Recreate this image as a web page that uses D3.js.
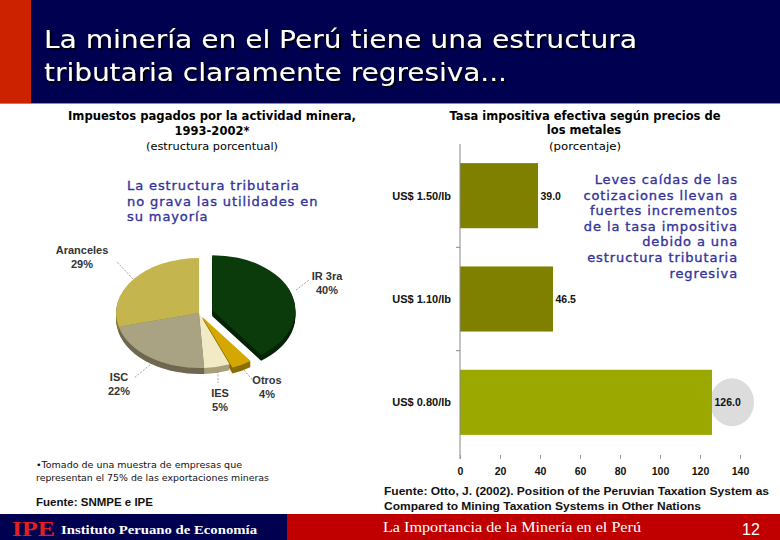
<!DOCTYPE html>
<html>
<head>
<meta charset="utf-8">
<script src="https://cdn.jsdelivr.net/npm/d3@7"></script>
<style>
html,body{margin:0;padding:0;background:#fff;}
svg{display:block;}
</style>
</head>
<body>
<svg id="chart" width="780" height="540"></svg>
<script>
// ---------- DATA ----------
const titleLines = ["La minería en el Perú tiene una estructura", "tributaria claramente regresiva..."];

const pieTitle = ["Impuestos pagados por la actividad minera,", "1993-2002*"];
const pieSubtitle = "(estructura porcentual)";
const pieNote = ["La estructura tributaria", "no grava las utilidades en", "su mayoría"];
const pieCategories = ["IR 3ra", "Otros", "IES", "ISC", "Aranceles"];
const pieValues = [40, 4, 5, 22, 29];
const pieFootnote = ["•Tomado de una muestra de empresas que", "representan el 75% de las exportaciones mineras"];
const pieSource = "Fuente: SNMPE e IPE";

const barTitle = ["Tasa impositiva efectiva según precios de", "los metales"];
const barSubtitle = "(porcentaje)";
const barCategories = ["US$ 1.50/lb", "US$ 1.10/lb", "US$ 0.80/lb"];
const barValues = [39.0, 46.5, 126.0];
const barTicks = [0, 20, 40, 60, 80, 100, 120, 140];
const barNote = ["Leves caídas de las", "cotizaciones llevan a", "fuertes incrementos", "de la tasa impositiva", "debido a una", "estructura tributaria", "regresiva"];
const barSource = ["Fuente: Otto, J. (2002). Position of the Peruvian Taxation System as", "Compared to Mining Taxation Systems in Other Nations"];

const footerLeft = ["IPE", "Instituto Peruano de Economía"];
const footerRight = "La Importancia de la Minería en el Perú";
const pageNumber = "12";

// ---------- STYLE / LAYOUT ----------
const navy = "#000050";
const sans = "'DejaVu Sans', Verdana, sans-serif";
const arial = "'Liberation Sans', Arial, sans-serif";
const serif = "'Liberation Serif', 'Times New Roman', serif";
const noteBlue = "#333399";
const pieTop = {"IR 3ra": "#0b3a0b", "Otros": "#d4a800", "IES": "#f2eac4", "ISC": "#a9a283", "Aranceles": "#c5b54e"};
const pieSide = {"IR 3ra": "#062406", "Otros": "#8a6e00", "IES": "#a89f7a", "ISC": "#6e6850", "Aranceles": "#807530"};
const pieExplode = {"IR 3ra": 14, "Otros": 6, "IES": 0, "ISC": 0, "Aranceles": 0};
const pieLabelPos = {
  "IR 3ra": {x: 327, y: 280, lx1: 296, ly1: 290, lx2: 309, ly2: 280},
  "Otros": {x: 267, y: 384, lx1: 244, ly1: 370, lx2: 255, ly2: 383},
  "IES": {x: 220, y: 397, lx1: 218, ly1: 371, lx2: 218, ly2: 383},
  "ISC": {x: 119, y: 381, lx1: 150, ly1: 365, lx2: 134, ly2: 378},
  "Aranceles": {x: 82, y: 254, lx1: 133, ly1: 279, lx2: 117, ly2: 262}
};

const svg = d3.select("#chart");
const defs = svg.append("defs");
const shadow = defs.append("filter").attr("id", "shadow").attr("x", "-5%").attr("y", "-30%").attr("width", "110%").attr("height", "160%");
shadow.append("feDropShadow").attr("dx", 2).attr("dy", 2).attr("stdDeviation", 0.6)
  .attr("flood-color", "#000").attr("flood-opacity", 0.9);

// ---------- HEADER ----------
svg.append("rect").attr("x", 0).attr("y", 0).attr("width", 780).attr("height", 103).attr("fill", navy);
svg.append("rect").attr("x", 0).attr("y", 0).attr("width", 31).attr("height", 103).attr("fill", "#cc2200");
svg.append("line").attr("x1", 0).attr("x2", 780).attr("y1", 103.5).attr("y2", 103.5).attr("stroke", "#8a8aa0").attr("stroke-width", 1);
const titleLen = [593, 463];
titleLines.forEach((t, i) => {
  svg.append("text").attr("x", 44).attr("y", 48 + i * 33)
    .attr("fill", "#fff").attr("filter", "url(#shadow)")
    .attr("font-family", sans).attr("font-size", 24)
    .attr("textLength", titleLen[i]).attr("lengthAdjust", "spacingAndGlyphs").text(t);
});

// ---------- LEFT PANEL: PIE ----------
svg.append("text").attr("x", 212).attr("y", 120).attr("text-anchor", "middle")
  .attr("font-family", sans).attr("font-weight", "bold").attr("font-size", 11.5)
  .attr("textLength", 288).attr("lengthAdjust", "spacingAndGlyphs").text(pieTitle[0]);
svg.append("text").attr("x", 212).attr("y", 135).attr("text-anchor", "middle")
  .attr("font-family", sans).attr("font-weight", "bold").attr("font-size", 11.5).text(pieTitle[1]);
svg.append("text").attr("x", 212).attr("y", 150).attr("text-anchor", "middle")
  .attr("font-family", sans).attr("font-size", 11)
  .attr("textLength", 132).attr("lengthAdjust", "spacingAndGlyphs").text(pieSubtitle);

pieNote.forEach((t, i) => {
  svg.append("text").attr("x", 127).attr("y", 190 + i * 15.7)
    .attr("fill", noteBlue).attr("stroke", noteBlue).attr("stroke-width", 0.35)
    .attr("font-family", sans).attr("font-size", 13)
    .attr("letter-spacing", 0.9).text(t);
});

const pcx = 199, pcy = 313, prx = 83, pry = 55, thick = 6;
const pieGen = d3.pie().sort(null).value(d => d.value);
const slices = pieGen(pieCategories.map((c, i) => ({cat: c, value: pieValues[i]})));
const arc = d3.arc().innerRadius(0).outerRadius(prx);

function offset(d) {
  const mid = (d.startAngle + d.endAngle) / 2;
  const e = pieExplode[d.data.cat];
  return [Math.sin(mid) * e, -Math.cos(mid) * e];
}

// side layers
for (let k = thick; k >= 1; k--) {
  const g = svg.append("g").attr("transform", `translate(${pcx},${pcy + k}) scale(1,${pry / prx})`);
  g.selectAll("path").data(slices).join("path")
    .attr("d", arc)
    .attr("transform", d => `translate(${offset(d)[0]},${offset(d)[1]})`)
    .attr("fill", d => pieSide[d.data.cat]);
}
const gTop = svg.append("g").attr("transform", `translate(${pcx},${pcy}) scale(1,${pry / prx})`);
gTop.selectAll("path").data(slices).join("path")
  .attr("d", arc)
  .attr("transform", d => `translate(${offset(d)[0]},${offset(d)[1]})`)
  .attr("fill", d => pieTop[d.data.cat]);

// labels and leader lines
slices.forEach(d => {
  const p = pieLabelPos[d.data.cat];
  svg.append("line").attr("x1", p.lx1).attr("y1", p.ly1).attr("x2", p.lx2).attr("y2", p.ly2)
    .attr("stroke", "#888").attr("stroke-width", 0.8).attr("stroke-dasharray", "2,1.5");
  svg.append("text").attr("x", p.x).attr("y", p.y).attr("text-anchor", "middle")
    .attr("font-family", arial).attr("font-weight", "bold").attr("font-size", 11).attr("fill", "#333")
    .text(d.data.cat);
  svg.append("text").attr("x", p.x).attr("y", p.y + 14).attr("text-anchor", "middle")
    .attr("font-family", arial).attr("font-weight", "bold").attr("font-size", 11).attr("fill", "#333")
    .text(d.data.value + "%");
});

pieFootnote.forEach((t, i) => {
  svg.append("text").attr("x", 36).attr("y", 468 + i * 13)
    .attr("font-family", sans).attr("font-size", 9).attr("fill", "#111")
    .attr("textLength", i === 0 ? 206 : 233).attr("lengthAdjust", "spacingAndGlyphs").text(t);
});
svg.append("text").attr("x", 36).attr("y", 506)
  .attr("font-family", arial).attr("font-weight", "bold").attr("font-size", 11.5).attr("fill", "#111")
  .text(pieSource);

// ---------- RIGHT PANEL: BARS ----------
svg.append("text").attr("x", 585).attr("y", 120).attr("text-anchor", "middle")
  .attr("font-family", sans).attr("font-weight", "bold").attr("font-size", 11.5)
  .attr("textLength", 271).attr("lengthAdjust", "spacingAndGlyphs").text(barTitle[0]);
svg.append("text").attr("x", 584).attr("y", 134).attr("text-anchor", "middle")
  .attr("font-family", sans).attr("font-weight", "bold").attr("font-size", 11.5).text(barTitle[1]);
svg.append("text").attr("x", 585).attr("y", 150).attr("text-anchor", "middle")
  .attr("font-family", sans).attr("font-size", 11)
  .attr("textLength", 72).attr("lengthAdjust", "spacingAndGlyphs").text(barSubtitle);

const x = d3.scaleLinear().domain([0, 140]).range([460, 740]);
const y = d3.scaleBand().domain(barCategories).range([144, 454]).paddingInner(0.37).paddingOuter(0.185);
const barColors = ["#808000", "#808000", "#9aa800"];

// grey bubble behind last value
svg.append("ellipse")
  .attr("cx", x(barValues[2]) + 20).attr("cy", y(barCategories[2]) + y.bandwidth() / 2)
  .attr("rx", 22).attr("ry", 24).attr("fill", "#dcdcdc");

svg.selectAll("rect.bar").data(barCategories).join("rect").attr("class", "bar")
  .attr("x", x(0)).attr("y", d => y(d))
  .attr("width", (d, i) => x(barValues[i]) - x(0)).attr("height", y.bandwidth())
  .attr("fill", (d, i) => barColors[i]);

// vertical axis
svg.append("line").attr("x1", x(0)).attr("x2", x(0)).attr("y1", 144).attr("y2", 459)
  .attr("stroke", "#888").attr("stroke-width", 1);
barCategories.slice(0, -1).forEach(c => {
  const yy = y(c) + y.bandwidth() + y.step() * y.paddingInner() / 2;
  svg.append("line").attr("x1", x(0) - 4).attr("x2", x(0)).attr("y1", yy).attr("y2", yy)
    .attr("stroke", "#888");
});
// category labels
svg.selectAll("text.cat").data(barCategories).join("text").attr("class", "cat")
  .attr("x", 451).attr("y", d => y(d) + y.bandwidth() / 2 + 4)
  .attr("text-anchor", "end").attr("font-family", arial).attr("font-weight", "bold").attr("font-size", 11)
  .attr("fill", "#111").text(d => d);
// value labels
svg.selectAll("text.val").data(barValues).join("text").attr("class", "val")
  .attr("x", d => x(d) + 2.5).attr("y", (d, i) => y(barCategories[i]) + y.bandwidth() / 2 + 4)
  .attr("font-family", arial).attr("font-weight", "bold").attr("font-size", 10.5)
  .attr("fill", "#111").text(d => d.toFixed(1));

// bottom axis
const xAxis = svg.append("g").attr("transform", "translate(0,455)")
  .call(d3.axisBottom(x).tickValues(barTicks).tickSize(4).tickPadding(9).tickFormat(d3.format("d")));
xAxis.select(".domain").remove();
xAxis.selectAll(".tick line").attr("stroke", "#999");
xAxis.selectAll(".tick text").attr("font-family", arial).attr("font-weight", "bold").attr("font-size", 10.5).attr("fill", "#111");

barNote.forEach((t, i) => {
  svg.append("text").attr("x", 738).attr("y", 184 + i * 15.6).attr("text-anchor", "end")
    .attr("fill", noteBlue).attr("stroke", noteBlue).attr("stroke-width", 0.35)
    .attr("font-family", sans).attr("font-size", 13)
    .attr("letter-spacing", 0.9).text(t);
});

barSource.forEach((t, i) => {
  svg.append("text").attr("x", 384).attr("y", 495 + i * 15)
    .attr("font-family", arial).attr("font-weight", "bold").attr("font-size", 10.5).attr("fill", "#111")
    .attr("textLength", i === 0 ? 385 : 317).attr("lengthAdjust", "spacingAndGlyphs").text(t);
});

// ---------- FOOTER ----------
svg.append("rect").attr("x", 0).attr("y", 514).attr("width", 287).attr("height", 26).attr("fill", navy);
svg.append("rect").attr("x", 287).attr("y", 514).attr("width", 493).attr("height", 26).attr("fill", "#c00000");
svg.append("text").attr("x", 12).attr("y", 536)
  .attr("font-family", serif).attr("font-weight", "bold").attr("font-size", 22).attr("fill", "#e02020")
  .attr("textLength", 43).attr("lengthAdjust", "spacingAndGlyphs").text(footerLeft[0]);
svg.append("text").attr("x", 61).attr("y", 534)
  .attr("font-family", serif).attr("font-weight", "bold").attr("font-size", 13).attr("fill", "#fff")
  .attr("textLength", 196).attr("lengthAdjust", "spacingAndGlyphs").text(footerLeft[1]);
svg.append("text").attr("x", 383).attr("y", 532)
  .attr("font-family", serif).attr("font-size", 14).attr("fill", "#fff")
  .attr("textLength", 258).attr("lengthAdjust", "spacingAndGlyphs").text(footerRight);
svg.append("text").attr("x", 742).attr("y", 535)
  .attr("font-family", arial).attr("font-size", 16).attr("fill", "#fff").text(pageNumber);
</script>
</body>
</html>
